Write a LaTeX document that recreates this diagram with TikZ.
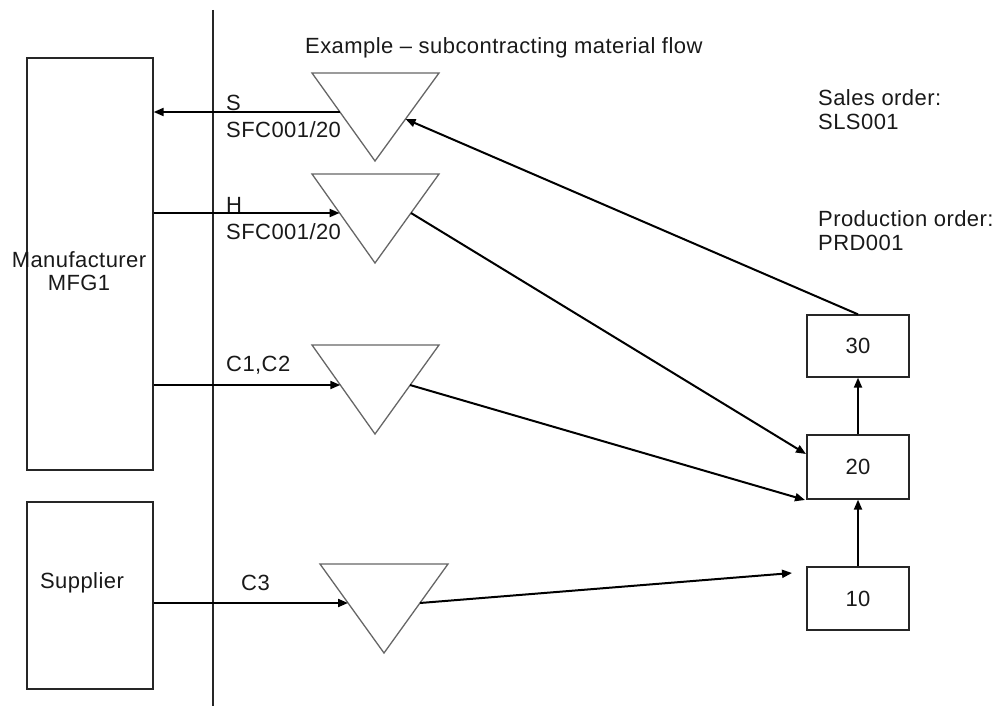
\documentclass[tikz,border=0pt]{standalone}
\usepackage{fontspec}
\setmainfont{Liberation Sans}[LetterSpace=2]
\usetikzlibrary{arrows.meta}
\begin{document}
\begin{tikzpicture}[x=1pt,y=-1pt,
  txt/.style={inner sep=0pt,font=\fontsize{22}{26}\selectfont,text=black!90},
  boxn/.style={draw=black!85,line width=1.3pt,inner sep=0pt},
  tri/.style={draw=black!60,line width=1.3pt,line join=miter},
  flow/.style={draw=black,line width=2pt,-{Triangle[length=10pt,width=8pt]}},
  plain/.style={draw=black,line width=2pt}]
\useasboundingbox (0,0) rectangle (998,709);
% divider
\coordinate (vtop) at (213,10);
\coordinate (vbot) at (213,706);
\draw[line width=1.3pt,black!85] (vtop) -- (vbot);
% left boxes
\node[boxn,minimum width=126pt,minimum height=412pt] (mfg) at (90,264) {};
\node[txt,align=center] (mfgl) at (79,271) {Manufacturer\\[-3pt]MFG1};
\node[boxn,minimum width=126pt,minimum height=187pt] (sup) at (90,595.5) {};
\node[txt] (supl) at (82,583) {Supplier};
% right boxes
\node[boxn,minimum width=102pt,minimum height=62pt] (b30) at (858,346) {};
\node[txt] at (b30) {30};
\node[boxn,minimum width=102pt,minimum height=64pt] (b20) at (858,467) {};
\node[txt] at (b20) {20};
\node[boxn,minimum width=102pt,minimum height=63pt] (b10) at (858,598.5) {};
\node[txt] at (b10) {10};
% triangles
\draw[tri] (312,73) -- (439,73) -- (375,161) -- cycle;
\draw[tri] (312,174) -- (439,174) -- (375,263) -- cycle;
\draw[tri] (312,345) -- (439,345) -- (375,434) -- cycle;
\draw[tri] (320,564) -- (448,564) -- (384,653) -- cycle;
\coordinate (t1l) at (340,112);
\coordinate (t1r) at (405.5,119);
\coordinate (t2l) at (339.6,213);
\coordinate (t2r) at (411,213);
\coordinate (t3l) at (340.3,385);
\coordinate (t3r) at (410,385);
\coordinate (t4l) at (348,603);
\coordinate (t4r) at (420,603);
% manufacturer / supplier connection points
\coordinate (m1) at (mfg.east |- t1l);
\coordinate (m2) at (mfg.east |- t2l);
\coordinate (m3) at (mfg.east |- t3l);
\coordinate (s1) at (sup.east |- t4l);
\draw[flow] (t1l) -- (m1);
\draw[flow] (m2) -- (t2l);
\draw[flow] (m3) -- (t3l);
\draw[flow] (s1) -- (t4l);
% production flow
\coordinate (b20a) at (806,454);
\coordinate (b20b) at (805,500);
\coordinate (b10a) at (792,573);
\draw[flow] (b30.north) -- (t1r);
\draw[flow] (t2r) -- (b20a);
\draw[flow] (t3r) -- (b20b);
\draw[flow] (t4r) -- (b10a);
\draw[flow] (b10.north) -- (b20.south);
\draw[flow] (b20.north) -- (b30.south);
% labels
\node[txt,anchor=west] (lS) at (226,103) {S};
\node[txt,anchor=west] (lS2) at (226,130) {SFC001/20};
\node[txt,anchor=west] (lH) at (226,205) {H};
\node[txt,anchor=west] (lH2) at (226,232) {SFC001/20};
\node[txt,anchor=west] (lC) at (226,365) {C1,C2};
\node[txt,anchor=west] (lC3) at (241,583) {C3};
\node[txt,anchor=west] (title) at (305,48) {Example – subcontracting material flow};
\node[txt,anchor=west,align=left] (sales) at (818,110) {Sales order:\\[-2pt]SLS001};
\node[txt,anchor=west,align=left] (prod) at (818,231) {Production order:\\[-2pt]PRD001};
\end{tikzpicture}
\end{document}
